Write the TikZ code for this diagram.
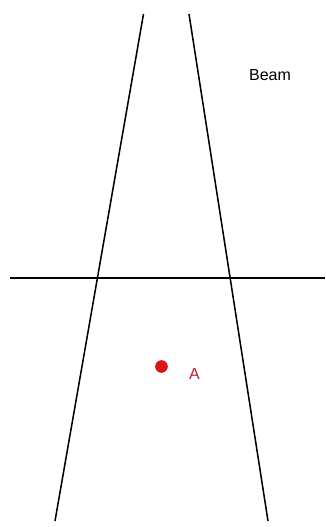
\documentclass[tikz,border=0pt]{standalone}
\usepackage{fontspec}
\setmainfont{Liberation Sans}
\definecolor{dotred}{RGB}{222,20,20}
\definecolor{labred}{RGB}{190,30,40}
\begin{document}
\begin{tikzpicture}[x=0.75pt,y=-0.75pt,
  beamline/.style={line width=1.15pt,black},
  lab/.style={inner sep=0pt,anchor=base,font=\fontsize{12pt}{14pt}\selectfont}]
\useasboundingbox[fill=white] (0,0) rectangle (325,527);
\coordinate (LT) at (143.5,14);
\coordinate (LB) at (55,521);
\coordinate (RT) at (189,14);
\coordinate (RB) at (268,521);
\coordinate (HL) at (10,278);
\coordinate (HR) at (325,278);
\draw[beamline] (LT) -- (LB);
\draw[beamline] (RT) -- (RB);
\draw[beamline] (HL) -- (HR);
\node[lab] (beam) at (270,81) {Beam};
\node[circle,fill=dotred,inner sep=0pt,minimum size=9.5pt] (dot) at (161.5,366.5) {};
\node[lab,text=labred] (A) at (194.5,379) {A};
\end{tikzpicture}
\end{document}
